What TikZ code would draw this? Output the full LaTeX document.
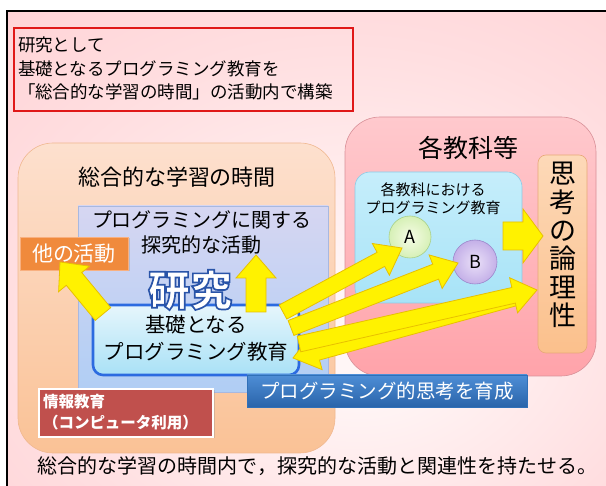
\documentclass[tikz,border=0pt]{standalone}
\usepackage{fontspec}
\setmainfont{Noto Sans CJK JP}
\newfontfamily\kenfont[BoldFeatures={FakeBold=4}]{Noto Sans CJK JP}
\usetikzlibrary{calc,shadows}
\definecolor{bgc0}{HTML}{FFF6F6}
\definecolor{bgc1}{HTML}{FFDEE0}
\definecolor{bgpink}{HTML}{FFCDD1}
\definecolor{bgpinkdark}{HTML}{F6B6BA}
\definecolor{titlered}{HTML}{E01818}
\pgfdeclareradialshading{bgsh}{\pgfpoint{5bp}{-10bp}}{color(0bp)=(bgc0); color(6bp)=(bgc0); color(28bp)=(bgc1); color(48bp)=(bgpink); color(72bp)=(bgpinkdark)}
\newcommand\fsz[2]{\fontsize{#1}{#2}\selectfont}
\newcommand\yarr[5]{%
  \coordinate (#2-hb) at ($(#2)!#5!(#1)$);
  \filldraw[yarrow] ($(#1)!#3!90:(#2)$) -- ($(#2-hb)!#3!-90:(#1)$) -- ($(#2-hb)!#4!-90:(#1)$) -- (#2) -- ($(#2-hb)!#4!90:(#1)$) -- ($(#2-hb)!#3!90:(#1)$) -- ($(#1)!#3!-90:(#2)$) -- cycle;
}
\begin{document}
\begin{tikzpicture}[x=1pt,y=-1pt,
  box/.style={rectangle, inner sep=0pt, outer sep=0pt},
  yarrow/.style={fill=yellow, draw={rgb,255:red,232;green,192;blue,0}, line width=0.8pt, line join=miter},
  lbl/.style={inner sep=0pt, outer sep=0pt, align=center}]
\useasboundingbox (0,0) rectangle (606,486);
\fill[white] (0,0) rectangle (606,486);
\path[shading=bgsh] (7,11) rectangle (606,486);
\draw[black, line width=1.5pt] (7,486) -- (7,11) -- (606,11);

% title box
\node[box, draw=titlered, line width=1.6pt, minimum width=339pt, minimum height=83pt] (titlebox) at (183.5,69.5) {};
\node[lbl, align=left, anchor=west, font=\fsz{17.5}{23.5}] (titletext) at (18,68.5) {研究として\\基礎となるプログラミング教育を\\「総合的な学習の時間」の活動内で構築};

% left big box
\node[box, draw={rgb,255:red,240;green,184;blue,144}, line width=0.6pt, rounded corners=35pt, top color={rgb,255:red,253;green,224;blue,206}, bottom color={rgb,255:red,250;green,194;blue,150}, minimum width=317pt, minimum height=310pt] (sogo) at (176.5,298) {};
\node[lbl, font=\fsz{22}{26}] (sogotitle) at (177,177) {総合的な学習の時間};

\node[box, draw={rgb,255:red,168;green,184;blue,224}, line width=0.6pt, top color={rgb,255:red,214;green,214;blue,242}, bottom color={rgb,255:red,176;green,206;blue,244}, minimum width=250pt, minimum height=186pt] (tankyu) at (203,299) {};
\node[lbl, font=\fsz{20}{25}] (tankyutext) at (202,232) {プログラミングに関する\\探究的な活動};

\node[box, draw={rgb,255:red,248;green,176;blue,128}, line width=0.8pt, fill={rgb,255:red,240;green,138;blue,60}, text=white, font=\fsz{21}{24}, minimum width=108pt, minimum height=33pt, drop shadow={shadow xshift=1.5pt, shadow yshift=-1.5pt, opacity=0.3}] (other) at (74,253.5) {他の活動};

\node[box, draw={rgb,255:red,44;green,107;blue,224}, line width=2.6pt, rounded corners=10pt, top color={rgb,255:red,230;green,246;blue,252}, bottom color={rgb,255:red,169;green,225;blue,246}, minimum width=206pt, minimum height=70pt] (basic) at (196,340) {};
\node[lbl, font=\fsz{20.5}{27}] (basictext) at (196,338.5) {基礎となる\\プログラミング教育};

% right box
\node[box, draw={rgb,255:red,216;green,144;blue,152}, line width=0.6pt, rounded corners=35pt, top color={rgb,255:red,255;green,201;blue,205}, bottom color={rgb,255:red,255;green,163;blue,170}, minimum width=251pt, minimum height=259pt] (kyoka) at (470.5,246.5) {};
\node[lbl, font=\fsz{25}{28}] (kyokatitle) at (468,148) {各教科等};

\node[box, draw={rgb,255:red,140;green,203;blue,230}, line width=0.6pt, rounded corners=15pt, top color={rgb,255:red,198;green,238;blue,251}, bottom color={rgb,255:red,167;green,227;blue,247}, minimum width=167pt, minimum height=131pt] (kakukyoka) at (438.5,237.5) {};
\node[lbl, font=\fsz{15}{18}] (kakutext) at (433,199) {各教科における\\プログラミング教育};

\node[circle, inner sep=0pt, minimum size=42pt, draw={rgb,255:red,168;green,208;blue,136}, line width=0.6pt, inner color={rgb,255:red,246;green,252;blue,230}, outer color={rgb,255:red,214;green,240;blue,182}, font=\fsz{18}{20}] (A) at (410,237) {A};
\node[circle, inner sep=0pt, minimum size=44pt, draw={rgb,255:red,156;green,136;blue,204}, line width=0.6pt, inner color={rgb,255:red,234;green,224;blue,248}, outer color={rgb,255:red,196;green,176;blue,232}, font=\fsz{18}{20}] (B) at (475,262) {B};

\node[box, draw={rgb,255:red,232;green,168;blue,120}, line width=0.6pt, rounded corners=8pt, top color={rgb,255:red,253;green,217;blue,184}, bottom color={rgb,255:red,251;green,192;blue,140}, minimum width=49pt, minimum height=198pt] (shiko) at (562.5,254) {};
\node[lbl, font=\fsz{27}{28.4}] (shikotext) at (562.5,245) {思\\考\\の\\論\\理\\性};

\coordinate (rTail) at (503,236);
\coordinate (rTip) at (543,236);
\yarr{rTail}{rTip}{14pt}{27pt}{20pt}

% blue and red labels
\node[box, draw={rgb,255:red,48;green,112;blue,184}, line width=0.6pt, top color={rgb,255:red,78;green,142;blue,214}, bottom color={rgb,255:red,42;green,100;blue,170}, text=white, font=\fsz{19.5}{22}, minimum width=280pt, minimum height=32pt] (ikusei) at (387,391) {プログラミング的思考を育成};

\node[box, draw=white, line width=1.6pt, fill={rgb,255:red,192;green,80;blue,77}, minimum width=174pt, minimum height=48pt, drop shadow={shadow xshift=1.5pt, shadow yshift=-1.5pt, opacity=0.3}] (joho) at (126,413) {};
\node[lbl, align=left, anchor=west, text=white, font=\fsz{15.5}{21}\bfseries] (johotext) at (43,412.5) {情報教育\\（コンピュータ利用）};

% yellow arrows
\coordinate (lTail) at (518,296);
\coordinate (lTip) at (293,358);
\yarr{lTail}{lTip}{9pt}{19pt}{25pt}
\coordinate (aTail) at (283,312);
\coordinate (aTip) at (402,248);
\yarr{aTail}{aTip}{8pt}{18pt}{24pt}
\coordinate (bTail) at (291,328);
\coordinate (bTip) at (458,263);
\yarr{bTail}{bTip}{8pt}{18pt}{24pt}
\coordinate (tTail) at (299,344);
\coordinate (tTip) at (537,290);
\yarr{tTail}{tTip}{8pt}{18pt}{24pt}
\coordinate (uTail) at (256,312);
\coordinate (uTip) at (256,255);
\yarr{uTail}{uTip}{10pt}{20pt}{23pt}
\coordinate (oTail) at (103,314);
\coordinate (oTip) at (60,262);
\yarr{oTail}{oTip}{10pt}{20pt}{22pt}

\node[lbl, text=white, font=\fsz{42}{44}\kenfont\bfseries] (kenkyu) at (190,290) {\special{pdf:literal direct 0.16 0.33 0.66 RG}研究};

\node[lbl, font=\fsz{20}{24}] (bottomtext) at (317.5,466) {総合的な学習の時間内で，探究的な活動と関連性を持たせる。};
\end{tikzpicture}
\end{document}
